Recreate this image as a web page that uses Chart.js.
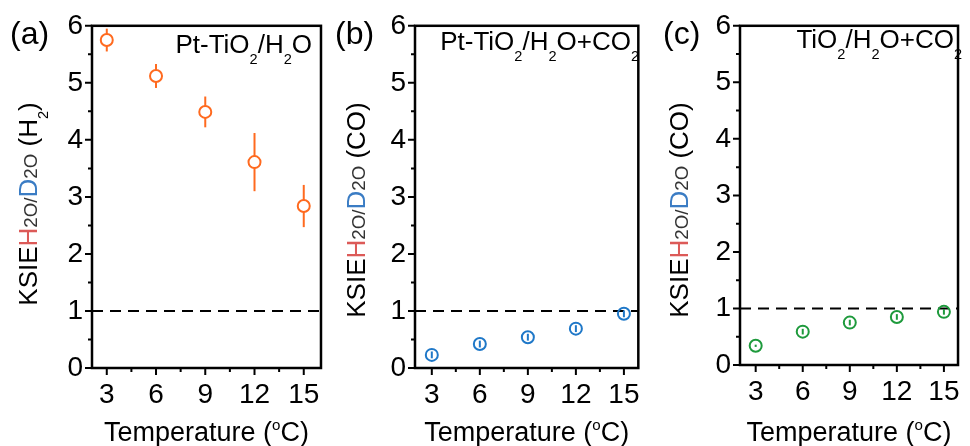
<!DOCTYPE html>
<html>
<head>
<meta charset="utf-8">
<script src="https://cdn.jsdelivr.net/npm/chart.js@4.4.1/dist/chart.umd.min.js"></script>
<style>
  html, body { margin: 0; padding: 0; background: #fff; }
  #wrap { position: relative; width: 970px; height: 446px; }
  .panel { position: absolute; top: 0; height: 446px; }
</style>
</head>
<body>
<div id="wrap">
  <div class="panel" style="left:0;width:330px"><canvas id="chartA"></canvas></div>
  <div class="panel" style="left:330px;width:320px"><canvas id="chartB"></canvas></div>
  <div class="panel" style="left:650px;width:320px"><canvas id="chartC"></canvas></div>
</div>
<script>
// data
const temps = [3, 6, 9, 12, 15];
const kieH2 = [5.75, 5.12, 4.49, 3.61, 2.84];
const errH2 = [0.2, 0.21, 0.27, 0.51, 0.37];
const kiePtCO = [0.23, 0.42, 0.54, 0.69, 0.95];
const errPtCO = [0.06, 0.06, 0.06, 0.06, 0.06];
const kieTiCO = [0.34, 0.59, 0.75, 0.85, 0.94];
const errTiCO = [0.02, 0.05, 0.05, 0.05, 0.05];
const xTicks = [3, 6, 9, 12, 15];
const yTicks = [0, 1, 2, 3, 4, 5, 6];
const refLine = 1;

const FONT = "'Liberation Sans', Arial, sans-serif";
const RED = '#dc5a58';
const BLUE = '#3a7cc4';

// draw a run of text pieces (normal / small / sub / sup)
function drawRich(ctx, segs, x, y, size, align) {
  let w = 0;
  segs.forEach(s => {
    const fs = (s.sub || s.sup) ? size * 0.56 : s.small ? size * 0.72 : size;
    s.fs = fs;
    ctx.font = fs + 'px ' + FONT;
    s.w = ctx.measureText(s.t).width;
    w += s.w;
  });
  let cx = align === 'right' ? x - w : align === 'center' ? x - w / 2 : x;
  ctx.textAlign = 'left';
  ctx.textBaseline = 'alphabetic';
  segs.forEach(s => {
    ctx.font = s.fs + 'px ' + FONT;
    ctx.fillStyle = s.c || '#000';
    const dy = s.sub ? size * 0.42 : s.sup ? -size * 0.42 : 0;
    ctx.fillText(s.t, cx, y + dy);
    cx += s.w;
  });
}

function makeDecor(p) {
  return {
    id: 'decor',
    beforeDatasetsDraw(chart) {
      const { ctx, chartArea: a, scales: { x, y } } = chart;
      ctx.save();
      // dashed line at KSIE = 1
      ctx.strokeStyle = '#000';
      ctx.lineWidth = 2;
      ctx.setLineDash([11, 7]);
      const yy = y.getPixelForValue(refLine);
      ctx.beginPath();
      ctx.moveTo(a.left, yy);
      ctx.lineTo(a.right, yy);
      ctx.stroke();
      ctx.setLineDash([]);
      // error bars
      ctx.strokeStyle = p.color;
      ctx.lineWidth = 2;
      temps.forEach((t, i) => {
        const px = x.getPixelForValue(t);
        ctx.beginPath();
        ctx.moveTo(px, y.getPixelForValue(p.vals[i] - p.err[i]));
        ctx.lineTo(px, y.getPixelForValue(p.vals[i] + p.err[i]));
        ctx.stroke();
      });
      ctx.restore();
    },
    afterDraw(chart) {
      const { ctx, chartArea: a, scales: { x, y } } = chart;
      ctx.save();
      ctx.strokeStyle = '#000';
      ctx.lineWidth = 2.5;
      ctx.strokeRect(a.left, a.top, a.right - a.left, a.bottom - a.top);
      // ticks, outward, major + minor
      ctx.lineWidth = 2;
      ctx.beginPath();
      yTicks.forEach((v, i) => {
        const py = y.getPixelForValue(v);
        ctx.moveTo(a.left - 7, py); ctx.lineTo(a.left, py);
        if (i < yTicks.length - 1) {
          const pm = y.getPixelForValue((v + yTicks[i + 1]) / 2);
          ctx.moveTo(a.left - 4, pm); ctx.lineTo(a.left, pm);
        }
      });
      xTicks.forEach((v, i) => {
        const px = x.getPixelForValue(v);
        ctx.moveTo(px, a.bottom); ctx.lineTo(px, a.bottom + 7);
        if (i < xTicks.length - 1) {
          const pm = x.getPixelForValue((v + xTicks[i + 1]) / 2);
          ctx.moveTo(pm, a.bottom); ctx.lineTo(pm, a.bottom + 4);
        }
      });
      ctx.stroke();

      // panel tag
      drawRich(ctx, [{ t: p.tag }], p.tagX, 44, 32, 'left');
      // sample label
      drawRich(ctx, p.label, p.labelX, p.labelY, p.labelSize, 'right');
      // x title
      drawRich(ctx, [{ t: 'Temperature (' }, { t: 'o', sup: true }, { t: 'C)' }],
        (a.left + a.right) / 2, 441, 27, 'center');
      // y title, rotated
      ctx.translate(p.yTitleX, p.yTitleY);
      ctx.rotate(-Math.PI / 2);
      drawRich(ctx, [
        { t: 'KSIE' }, { t: 'H', c: RED }, { t: '2O/', small: true, c: '#333' },
        { t: 'D', c: BLUE }, { t: '2O', small: true, c: '#333' }
      ].concat(p.yUnit), 0, 0, 26, 'center');
      ctx.restore();
    }
  };
}

function makePanel(id, p) {
  const ctx = document.getElementById(id);
  return new Chart(ctx, {
    type: 'scatter',
    data: {
      datasets: [{
        data: temps.map((t, i) => ({ x: t, y: p.vals[i] })),
        pointRadius: 6,
        pointHoverRadius: 6,
        pointBorderWidth: 2,
        pointBorderColor: p.color,
        pointBackgroundColor: p.fill
      }]
    },
    options: {
      responsive: true,
      maintainAspectRatio: false,
      animation: false,
      events: [],
      layout: { padding: { left: 0, right: p.padRight, top: 24, bottom: 0 } },
      plugins: { legend: { display: false }, tooltip: { enabled: false } },
      scales: {
        x: {
          type: 'linear',
          min: p.xMin,
          max: p.xMax,
          grid: { display: false, drawTicks: false },
          border: { display: false },
          afterBuildTicks: s => { s.ticks = xTicks.map(v => ({ value: v })); },
          afterFit: s => { s.height = p.bottomH; },
          ticks: { padding: 10, color: '#000', maxRotation: 0, autoSkip: false, font: { family: FONT, size: 28 } }
        },
        y: {
          min: 0,
          max: 6,
          grid: { display: false, drawTicks: false },
          border: { display: false },
          afterBuildTicks: s => { s.ticks = yTicks.map(v => ({ value: v })); },
          afterFit: s => { s.width = p.left; },
          ticks: { padding: 9, color: '#000', autoSkip: false, font: { family: FONT, size: 28 } }
        }
      }
    },
    plugins: [makeDecor(p)]
  });
}

makePanel('chartA', {
  vals: kieH2, err: errH2, color: '#ff6a1f', fill: '#fff',
  left: 92, padRight: 9, bottomH: 78, xMin: 2.1, xMax: 16.05,
  tag: '(a)', tagX: 10,
  label: [{ t: 'Pt-TiO' }, { t: '2', sub: true }, { t: '/H' }, { t: '2', sub: true }, { t: 'O' }],
  labelX: 312, labelY: 53, labelSize: 26,
  yTitleX: 37, yTitleY: 204,
  yUnit: [{ t: ' (H' }, { t: '2', sub: true }, { t: ')' }]
});

makePanel('chartB', {
  vals: kiePtCO, err: errPtCO, color: '#1f78c8', fill: 'rgba(255,255,255,0)',
  left: 85, padRight: 7, bottomH: 78, xMin: 1.95, xMax: 15.9,
  tag: '(b)', tagX: 5,
  label: [{ t: 'Pt-TiO' }, { t: '2', sub: true }, { t: '/H' }, { t: '2', sub: true }, { t: 'O+CO' }, { t: '2', sub: true }],
  labelX: 309, labelY: 50, labelSize: 26,
  yTitleX: 35, yTitleY: 210,
  yUnit: [{ t: ' (CO)' }]
});

makePanel('chartC', {
  vals: kieTiCO, err: errTiCO, color: '#1e9a3c', fill: 'rgba(255,255,255,0)',
  left: 90, padRight: 3, bottomH: 81, xMin: 2.0, xMax: 15.9,
  tag: '(c)', tagX: 13,
  label: [{ t: 'TiO' }, { t: '2', sub: true }, { t: '/H' }, { t: '2', sub: true }, { t: 'O+CO' }, { t: '2', sub: true }],
  labelX: 312, labelY: 48, labelSize: 26,
  yTitleX: 38, yTitleY: 210,
  yUnit: [{ t: ' (CO)' }]
});
</script>
</body>
</html>
